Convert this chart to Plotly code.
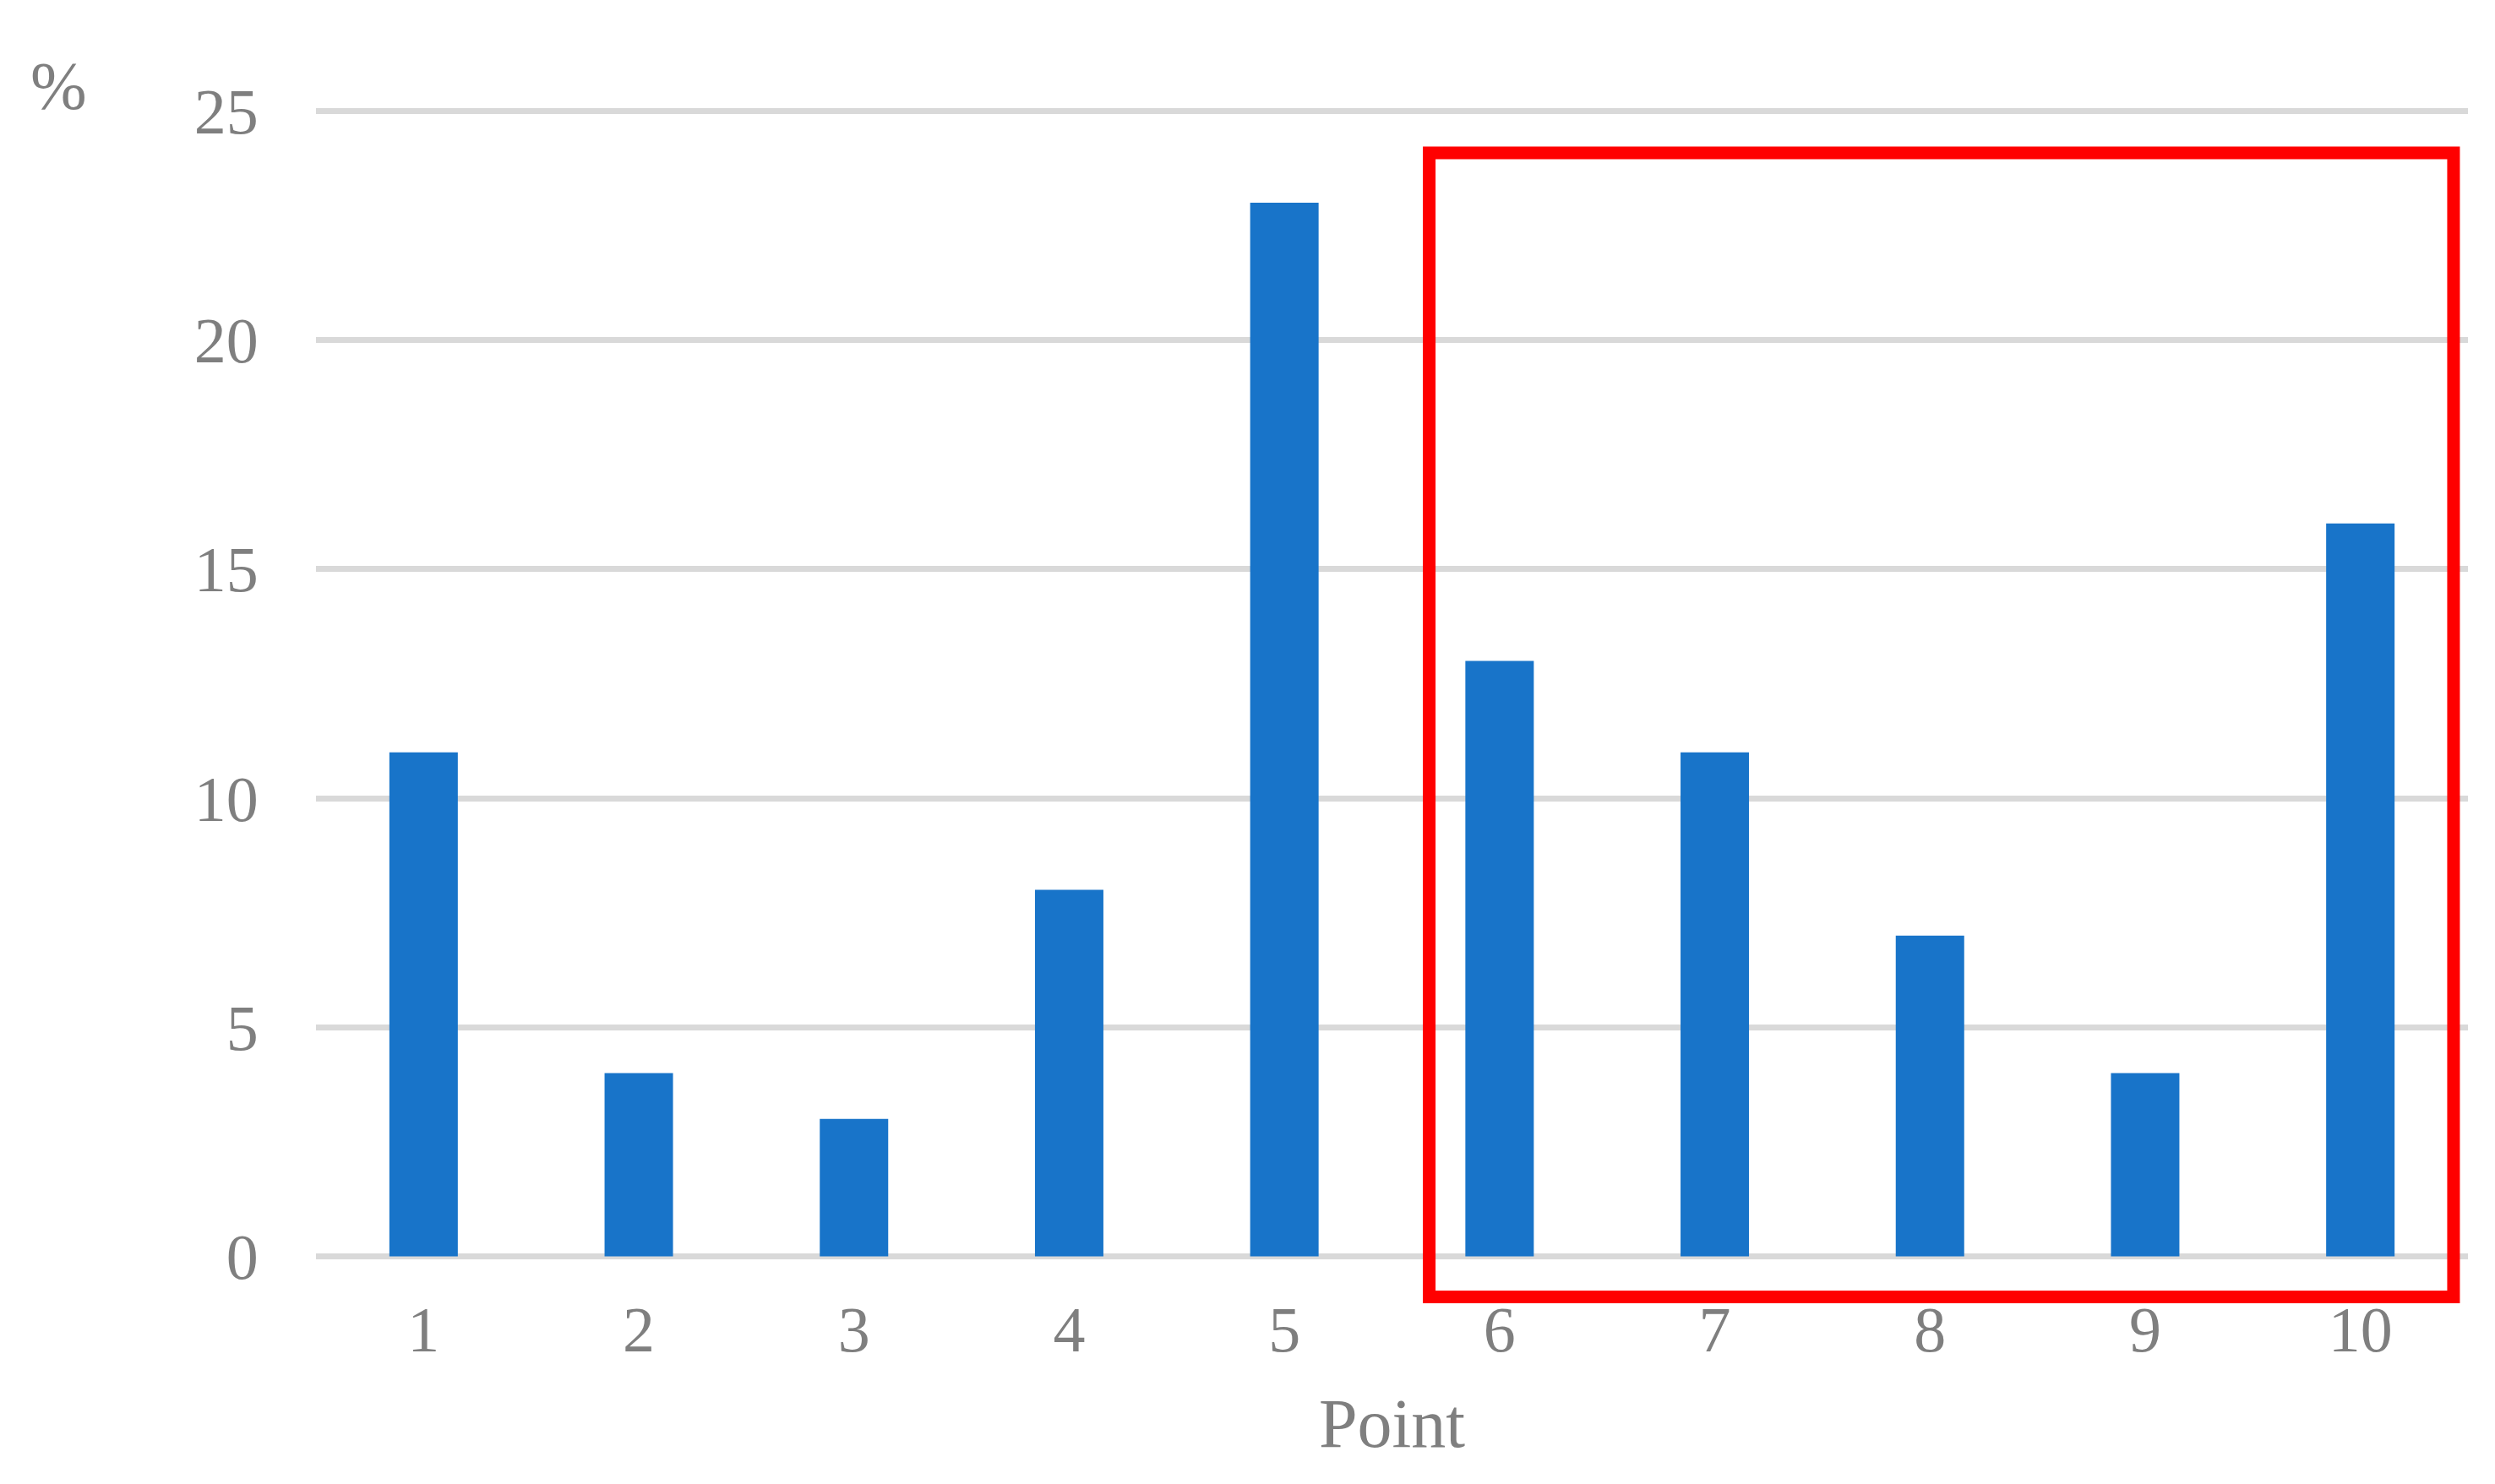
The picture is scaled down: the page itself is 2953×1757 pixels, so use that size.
import plotly.graph_objects as go

points = [1, 2, 3, 4, 5, 6, 7, 8, 9, 10]
percent = [11, 4, 3, 8, 23, 13, 11, 7, 4, 16]
y_ticks = [0, 5, 10, 15, 20, 25]

grey = '#7F7F7F'
font_family = 'Liberation Serif, Times New Roman, serif'

fig = go.Figure()
fig.add_trace(go.Bar(x=points, y=percent, marker=dict(color='#1874C9', line=dict(width=0)), width=0.318))

# red box around points 6-10
fig.add_shape(type='rect', xref='paper', yref='paper', x0=0.5173, x1=0.9933, y0=-0.0311, y1=0.9598,
              line=dict(color='#FF0000', width=15), fillcolor='rgba(0,0,0,0)')

fig.add_annotation(text='%', xref='paper', yref='paper', x=-0.1194, y=1.0176, showarrow=False,
                   xanchor='center', yanchor='middle', font=dict(size=80, color=grey, family=font_family))

# page body has an 8px margin, so shift plot area up/left by 8
fig.update_layout(
    width=2953, height=1757,
    margin=dict(l=366, r=40, t=118, b=272),
    plot_bgcolor='white', paper_bgcolor='white',
    showlegend=False,
    font=dict(family=font_family, color=grey, size=76),
    xaxis=dict(range=[0.5, 10.5], tickvals=points, ticktext=[str(p) for p in points],
               showgrid=False, zeroline=False, showline=False,
               ticks='outside', ticklen=15, tickcolor='rgba(0,0,0,0)',
               tickfont=dict(size=76, color=grey),
               title=dict(text='Point', font=dict(size=82, color=grey), standoff=40)),
    yaxis=dict(range=[-0.1, 25.1], tickvals=y_ticks, showgrid=True, gridcolor='#D9D9D9', gridwidth=7,
               zeroline=False, showline=False,
               ticks='outside', ticklen=52, tickcolor='rgba(0,0,0,0)',
               tickfont=dict(size=76, color=grey)),
)

fig.write_html('out.html')
